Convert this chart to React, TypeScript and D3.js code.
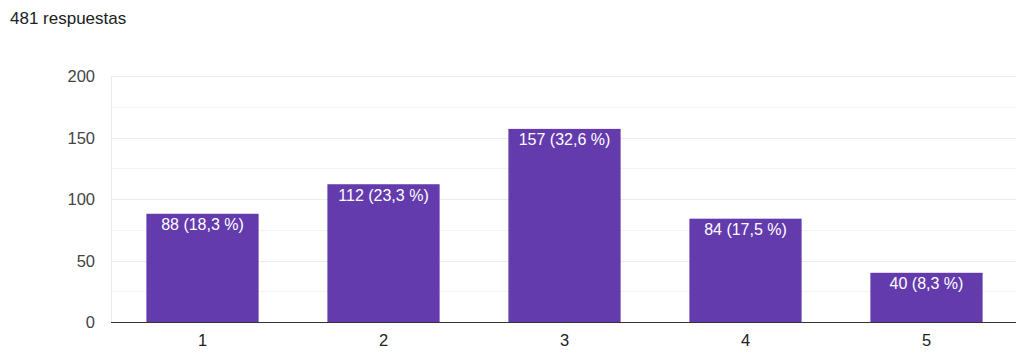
import React from "react";
import * as d3 from "d3";

const categories = ["1", "2", "3", "4", "5"];
const values = [88, 112, 157, 84, 40];
const labels = ["88 (18,3 %)", "112 (23,3 %)", "157 (32,6 %)", "84 (17,5 %)", "40 (8,3 %)"];
const majorTicks = [0, 50, 100, 150, 200];
const minorTicks = [25, 75, 125, 175];
const title = "481 respuestas";

const W = 1024;
const H = 359;
const left = 111;
const right = 1016;
const top = 76;
const bottom = 322;
const font = "'Liberation Sans', Arial, Helvetica, sans-serif";

export default function App() {
  const x = d3.scaleBand<string>().domain(categories).range([left, right]).paddingInner(0.38).paddingOuter(0.19);
  const y = d3.scaleLinear().domain([0, 200]).range([bottom, top]);
  return (
    <svg width={W} height={H} style={{ position: "absolute", left: 0, top: 0 }} fontFamily={font}>
      <rect width={W} height={H} fill="#fff" />
      <text x={10} y={24} fontSize={17} fill="#202124">{title}</text>
      {minorTicks.map((t) => (
        <line key={"m" + t} x1={left} x2={right} y1={Math.round(y(t)) + 0.5} y2={Math.round(y(t)) + 0.5} stroke="#f3f3f3" />
      ))}
      {majorTicks.map((t) => (
        <line key={"g" + t} x1={left} x2={right} y1={Math.round(y(t)) + 0.5} y2={Math.round(y(t)) + 0.5} stroke="#ebebeb" />
      ))}
      <line x1={left + 0.5} x2={left + 0.5} y1={top} y2={bottom} stroke="#ebebeb" />
      {majorTicks.map((t) => (
        <text key={"t" + t} x={95} y={y(t) + 6} textAnchor="end" fontSize={16.5} fill="#444">{t}</text>
      ))}
      {categories.map((c, i) => (
        <g key={c}>
          <rect x={x(c)! + 1} y={y(values[i])} width={x.bandwidth()} height={bottom - y(values[i])} fill="#643bad" />
          <text x={x(c)! + 1 + x.bandwidth() / 2} y={y(values[i]) + 16.5} textAnchor="middle" fontSize={16} fill="#fff">{labels[i]}</text>
          <text x={x(c)! + 1 + x.bandwidth() / 2} y={346} textAnchor="middle" fontSize={16.5} fill="#222">{c}</text>
        </g>
      ))}
      <line x1={left} x2={right} y1={bottom + 0.5} y2={bottom + 0.5} stroke="#333" strokeWidth={1.2} />
    </svg>
  );
}
